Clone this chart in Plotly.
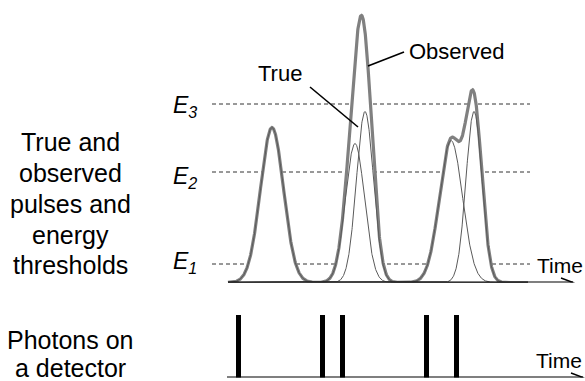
import numpy as np
import plotly.graph_objects as go

# ---------------- data ----------------
# true pulses: arrival time, amplitude (energy), width  (arbitrary units)
pulse_time = [44, 127, 137, 223, 246]
pulse_amp = [155, 139, 171, 142, 171]
pulse_width = [11.5, 9.5, 8.5, 11.5, 8.0]
# photon arrival times on the detector
photon_time = [10, 94, 114, 198, 228]
photon_count = [1, 1, 1, 1, 1]
# energy thresholds
threshold_names = ["E1", "E2", "E3"]
threshold_level = [18.5, 110.5, 178.5]

W, H = 585, 381
FONT = "Liberation Sans, Arial, sans-serif"

t = np.linspace(0, 300, 1501)
true_curves = [a * np.exp(-((t - c) ** 2) / (2 * s ** 2))
               for c, a, s in zip(pulse_time, pulse_amp, pulse_width)]
observed = np.sum(true_curves, axis=0)

fig = go.Figure()
fig.add_trace(go.Scatter(x=t, y=observed, mode="lines", fill="tozeroy",
                         fillcolor="white",
                         line=dict(color="#808080", width=3.2),
                         xaxis="x", yaxis="y", hoverinfo="skip"))
for c in true_curves:
    fig.add_trace(go.Scatter(x=t, y=c, mode="lines",
                             line=dict(color="#5a5a5a", width=1),
                             xaxis="x", yaxis="y", hoverinfo="skip"))
fig.add_trace(go.Bar(x=photon_time, y=photon_count, width=5,
                     marker=dict(color="black", line=dict(width=0)),
                     xaxis="x", yaxis="y2", hoverinfo="skip"))

def px(xp):
    return xp / W

def py(yp):
    return 1 - yp / H

shapes = []
# threshold dashed lines
for lv in threshold_level:
    shapes.append(dict(type="line", xref="x", yref="y", x0=-16, x1=302,
                       y0=lv, y1=lv, layer="below",
                       line=dict(color="#333", width=1, dash="4px,3px")))
# axes with arrows
shapes.append(dict(type="line", xref="x", yref="y", x0=0, x1=345, y0=0, y1=0,
                   line=dict(color="black", width=2)))
shapes.append(dict(type="path", xref="x", yref="y",
                   path="M 333 4.5 L 345 0 L 333 -4.5",
                   line=dict(color="black", width=1.5)))
shapes.append(dict(type="line", xref="x", yref="y2", x0=-1, x1=355, y0=0, y1=0,
                   line=dict(color="black", width=2)))
shapes.append(dict(type="path", xref="x", yref="y2",
                   path="M 343 0.072 L 355 0 L 343 -0.072",
                   line=dict(color="black", width=1.5)))
# pointer lines
shapes.append(dict(type="line", xref="x", yref="y", x0=82, y0=195.5,
                   x1=130, y1=155.5, line=dict(color="black", width=1.6)))
shapes.append(dict(type="line", xref="x", yref="y", x0=140, y0=216.5,
                   x1=176, y1=230.5, line=dict(color="black", width=1.6)))

ann = []

def label(text, xp, baseline, size, xanchor="center"):
    ann.append(dict(text=text, xref="paper", yref="paper", x=px(xp),
                    y=py(baseline - 0.905 * size - 1), xanchor=xanchor,
                    yanchor="top", showarrow=False,
                    font=dict(family=FONT, size=size, color="black")))

left_lines = [("True and", 150), ("observed", 181), ("pulses and", 212),
              ("energy", 243), ("thresholds", 273),
              ("Photons on", 348), ("a detector", 376)]
for txt, b in left_lines:
    label(txt, 70, b, 25)

e_base = [268, 183, 112]
for name, b in zip(threshold_names, e_base):
    label("<i>E</i><sub><i>%s</i></sub>" % name[1], 171, b, 23, "left")

label("True", 279.5, 80, 22)
label("Observed", 407, 58, 22, "left")
label("Time", 559.5, 272, 21)
label("Time", 558.5, 367, 21)

ax_hidden = dict(visible=False, showgrid=False, zeroline=False)
fig.update_layout(
    width=W, height=H, margin=dict(l=0, r=0, t=0, b=0),
    paper_bgcolor="white", plot_bgcolor="white", showlegend=False,
    xaxis=dict(range=[-228, 357], domain=[0, 1], **ax_hidden),
    yaxis=dict(range=[0, 282.5], domain=[1 - 282.5 / H, 1], **ax_hidden),
    yaxis2=dict(range=[0, 1], domain=[3.5 / H, 66 / H], **ax_hidden),
    shapes=shapes, annotations=ann, bargap=0,
)
fig.write_html("out.html", config={"displayModeBar": False},
               post_script="document.body.style.margin='0';"
                           "document.body.style.overflow='hidden';")
